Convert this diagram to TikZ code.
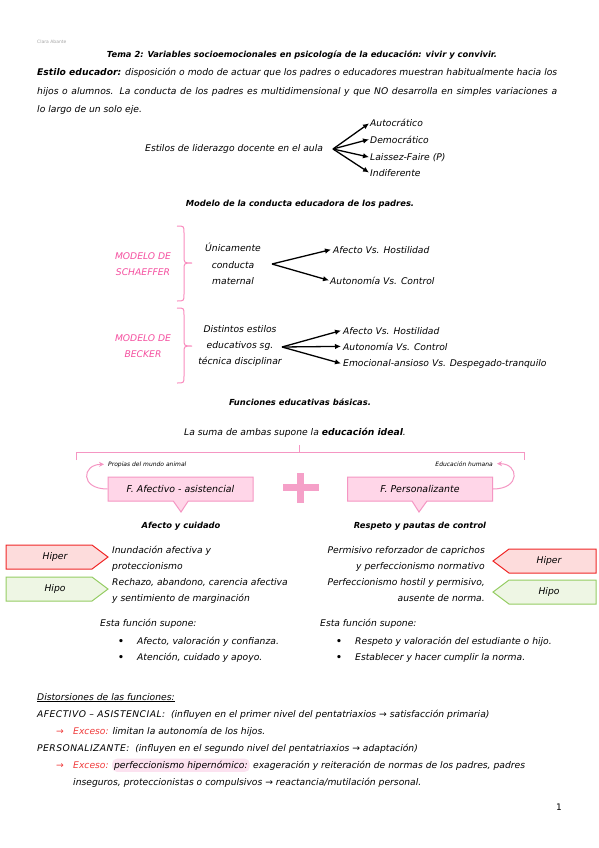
\documentclass[tikz,border=0pt]{standalone}
\usepackage{fontspec}
\setmainfont{DejaVu Sans}
\usetikzlibrary{arrows.meta,shapes.callouts}
\definecolor{pktext}{RGB}{245,80,160}
\definecolor{pkbrace}{RGB}{250,140,190}
\definecolor{pkline}{RGB}{245,150,195}
\definecolor{pkfill}{RGB}{255,214,232}
\definecolor{pkplus}{RGB}{245,160,200}
\definecolor{hiperline}{RGB}{240,40,40}
\definecolor{hiperfill}{RGB}{253,220,220}
\definecolor{hipoline}{RGB}{150,205,100}
\definecolor{hipofill}{RGB}{238,246,228}
\definecolor{exred}{RGB}{240,60,60}
\definecolor{hlfill}{RGB}{252,226,240}
\begin{document}
\begin{tikzpicture}[x=1pt,y=-1pt,
  t/.style={inner sep=0pt, font=\fontsize{9.2}{11}\selectfont\itshape},
  tb/.style={inner sep=0pt, font=\fontsize{8.35}{11}\selectfont\bfseries\itshape},
  sm/.style={inner sep=0pt, font=\fontsize{6}{7}\selectfont\itshape},
  pkt/.style={inner sep=0pt, text=pktext, font=\fontsize{9.2}{11}\selectfont\itshape},
  multi/.style={inner sep=0pt, align=center, font=\fontsize{9.2}{16.3}\selectfont\itshape},
  arr/.style={line width=1.3pt, -{Latex[length=6pt,width=5.5pt]}},
  bracestyle/.style={draw=pkbrace, line width=1pt},
  pkarr/.style={draw=pkline, line width=1pt, -{Stealth[length=5pt,width=5pt]}},
  fbox/.style={rectangle callout, draw=pkline, fill=pkfill, line width=1pt,
     minimum width=145pt, minimum height=24pt, callout pointer width=15pt,
     inner sep=0pt, font=\fontsize{9.4}{11}\selectfont\itshape},
  hiper/.style={draw=hiperline, fill=hiperfill, line width=1pt},
  hipo/.style={draw=hipoline, fill=hipofill, line width=1pt}
]
\useasboundingbox[fill=white] (0,0) rectangle (599,848);

% header
\node[inner sep=0pt, anchor=base west, text=gray!70, font=\fontsize{4.5}{5}\selectfont] (author) at (37,44) {Clara Abante};
\node[tb, anchor=base] (title) at (302,58) {Tema 2: Variables socioemocionales en psicología de la educación: vivir y convivir.};
\node[t, anchor=base west] (p1) at (37,76) {\makebox[520pt][s]{\textbf{Estilo educador:} disposición o modo de actuar que los padres o educadores muestran habitualmente hacia los}};
\node[t, anchor=base west] (p2) at (37,95) {\makebox[520pt][s]{hijos o alumnos. La conducta de los padres es multidimensional y que NO desarrolla en simples variaciones a}};
\node[t, anchor=base west] (p3) at (37,113) {lo largo de un solo eje.};

% estilos de liderazgo
\node[t, anchor=base west] (estilos) at (145,151) {Estilos de liderazgo docente en el aula};
\coordinate (o1) at (333,149);
\node[t, anchor=base west] (s1) at (370,127) {Autocrático};
\node[t, anchor=base west] (s2) at (370,143) {Democrático};
\node[t, anchor=base west] (s3) at (370,160) {Laissez-Faire (P)};
\node[t, anchor=base west] (s4) at (370,176) {Indiferente};
\foreach \n in {s1,s2,s3,s4} \draw[arr] (o1) -- ([xshift=-1pt]\n.west);

% modelo
\node[tb, anchor=base] (modelo) at (300,206) {Modelo de la conducta educadora de los padres.};

% Schaeffer
\draw[bracestyle] (177,226) .. controls (184,226) .. (184,233) -- (184,256)
   .. controls (184,263) .. (192,263) .. controls (184,263) .. (184,270)
   -- (184,294) .. controls (184,301) .. (177,301);
\node[pkt, anchor=base] (ms1) at (143,259) {MODELO DE};
\node[pkt, anchor=base] (ms2) at (143,275) {SCHAEFFER};
\node[multi] (unic) at (233,264) {Únicamente\\conducta\\maternal};
\coordinate (o2) at (272,264);
\node[t, anchor=base west] (a1) at (333,253) {Afecto Vs. Hostilidad};
\node[t, anchor=base west] (a2) at (330,284) {Autonomía Vs. Control};
\draw[arr] (o2) -- ([xshift=-2pt]a1.west);
\draw[arr] (o2) -- ([xshift=-1pt]a2.west);

% Becker
\draw[bracestyle] (177,308) .. controls (184,308) .. (184,315) -- (184,339)
   .. controls (184,346) .. (192,346) .. controls (184,346) .. (184,353)
   -- (184,376) .. controls (184,383) .. (177,383);
\node[pkt, anchor=base] (mb1) at (143,341) {MODELO DE};
\node[pkt, anchor=base] (mb2) at (143,357) {BECKER};
\node[multi] (dist) at (240,346) {Distintos estilos\\educativos sg.\\técnica disciplinar};
\coordinate (o3) at (282,347);
\node[t, anchor=base west] (b1) at (343,334) {Afecto Vs. Hostilidad};
\node[t, anchor=base west] (b2) at (343,350) {Autonomía Vs. Control};
\node[t, anchor=base west] (b3) at (343,366) {Emocional-ansioso Vs. Despegado-tranquilo};
\foreach \n in {b1,b2,b3} \draw[arr] (o3) -- ([xshift=-2pt]\n.west);

% funciones
\node[tb, anchor=base] (func) at (300,405) {Funciones educativas básicas.};
\node[t, anchor=base] (suma) at (295,435) {La suma de ambas supone la \textbf{educación ideal}.};
\draw[draw=pkline, line width=1pt] (76,460) -- (76,452) -- (524,452) -- (524,460);
\draw[draw=pkline, line width=1pt] (299,452) -- (299,445);

\node[sm, anchor=base west] (propias) at (108,466) {Propias del mundo animal};
\node[sm, anchor=base east] (humana) at (493,466) {Educación humana};

\node[fbox, callout absolute pointer={(181,512)}] (fa) at (180.5,489) {F. Afectivo - asistencial};
\node[fbox, callout absolute pointer={(419,512)}] (fp) at (420,489) {F. Personalizante};
\draw[pkarr] (fa.west) .. controls +(-28,0) and +(-22,0) .. ([xshift=-4pt]propias.west);
\draw[pkarr] (fp.east) .. controls +(28,0) and +(22,0) .. ([xshift=4pt]humana.east);

\fill[pkplus] (297,473) rectangle (304,503);
\fill[pkplus] (283,484) rectangle (319,491);

% afecto y cuidado
\node[tb, anchor=base] (afc) at (181,528) {Afecto y cuidado};
\node[tb, anchor=base] (rpc) at (420,528) {Respeto y pautas de control};

\draw[hiper] (6,545) -- (92,545) -- (108,557) -- (92,569) -- (6,569) -- cycle;
\node[t] (hl) at (55,557) {Hiper};
\draw[hipo] (6,577) -- (92,577) -- (108,589) -- (92,601) -- (6,601) -- cycle;
\node[t] (hol) at (55,589) {Hipo};

\node[t, anchor=base west] (l1) at (112,553) {Inundación afectiva y};
\node[t, anchor=base west] (l2) at (112,569) {proteccionismo};
\node[t, anchor=base west] (l3) at (112,585) {Rechazo, abandono, carencia afectiva};
\node[t, anchor=base west] (l4) at (112,601) {y sentimiento de marginación};

\node[t, anchor=base east] (r1) at (485,553) {Permisivo reforzador de caprichos};
\node[t, anchor=base east] (r2) at (485,569) {y perfeccionismo normativo};
\node[t, anchor=base east] (r3) at (485,585) {Perfeccionismo hostil y permisivo,};
\node[t, anchor=base east] (r4) at (485,601) {ausente de norma.};

\draw[hiper] (493,561) -- (509,549) -- (596,549) -- (596,573) -- (509,573) -- cycle;
\node[t] (hr) at (549,561) {Hiper};
\draw[hipo] (493,592) -- (509,580) -- (596,580) -- (596,604) -- (509,604) -- cycle;
\node[t] (hor) at (549,592) {Hipo};

% esta funcion supone
\node[t, anchor=base west] (e1) at (100,626) {Esta función supone:};
\node[t, anchor=base west] (e1a) at (118,644) {\textbf{•}};
\node[t, anchor=base west] (e1b) at (137,644) {Afecto, valoración y confianza.};
\node[t, anchor=base west] (e1c) at (118,660) {\textbf{•}};
\node[t, anchor=base west] (e1d) at (137,660) {Atención, cuidado y apoyo.};
\node[t, anchor=base west] (e2) at (320,626) {Esta función supone:};
\node[t, anchor=base west] (e2a) at (336,644) {\textbf{•}};
\node[t, anchor=base west] (e2b) at (355,644) {Respeto y valoración del estudiante o hijo.};
\node[t, anchor=base west] (e2c) at (336,660) {\textbf{•}};
\node[t, anchor=base west] (e2d) at (355,660) {Establecer y hacer cumplir la norma.};

% distorsiones
\node[t, anchor=base west] (d0) at (37,700) {\underline{Distorsiones de las funciones:}};
\node[t, anchor=base west] (d1) at (37,717) {{\addfontfeatures{LetterSpace=5}AFECTIVO – ASISTENCIAL:}\ \ (influyen en el primer nivel del pentatriaxios → satisfacción primaria)};
\node[t, anchor=base west, text=exred] (d2a) at (56,734) {→};
\node[t, anchor=base west] (d2b) at (73,734) {\textcolor{exred}{Exceso:} limitan la autonomía de los hijos.};
\node[t, anchor=base west] (d3) at (37,751) {{\addfontfeatures{LetterSpace=5}PERSONALIZANTE:}\ \ (influyen en el segundo nivel del pentatriaxios → adaptación)};
\node[t, anchor=base west, text=exred] (d4a) at (56,768) {→};
\node[t, anchor=base west, text=exred] (d4b) at (73,768) {Exceso:};
\node[t, anchor=base west, fill=hlfill, rounded corners=5pt, inner xsep=2pt, inner ysep=2pt] (d4c) at ([xshift=3pt]d4b.base east) {perfeccionismo hipernómico:};
\node[t, anchor=base west] (d4d) at ([xshift=3pt]d4c.base east) {exageración y reiteración de normas de los padres, padres};
\node[t, anchor=base west] (d5) at (73,785) {inseguros, proteccionistas o compulsivos → reactancia/mutilación personal.};

\node[inner sep=0pt, anchor=base, font=\fontsize{9}{10}\selectfont] (page) at (559,810) {1};
\end{tikzpicture}
\end{document}
